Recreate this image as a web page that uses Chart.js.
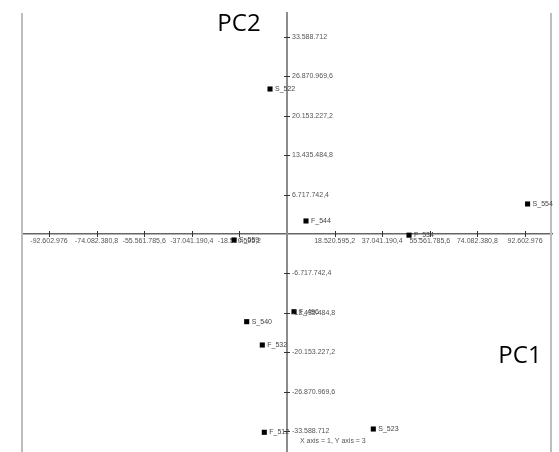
<!DOCTYPE html>
<html>
<head>
<meta charset="utf-8">
<script src="https://cdn.jsdelivr.net/npm/chart.js@4"></script>
<style>
  html, body { margin: 0; padding: 0; background: #fff; }
  #wrap { width: 559px; height: 452px; }
</style>
</head>
<body>
<div id="wrap"><canvas id="pca"></canvas></div>
<script>
// sample names and their scores on PC1 / PC2
const names = ['S_522', 'F_544', 'S_554', 'F_534', 'S_559', 'F_496', 'S_540', 'F_532', 'F_512', 'S_523'];
const pc1 = [-6610000, 7390000, 93600000, 47470000, -20620000, 2720000, -15680000, -9610000, -8830000, 33580000];
const pc2 = [24720000, 2220000, 5120000, -200000, -1020000, -13250000, -14950000, -18930000, -33810000, -33250000];

const xTicks = [-92602976, -74082380.8, -55561785.6, -37041190.4, -18520595.2, 18520595.2, 37041190.4, 55561785.6, 74082380.8, 92602976];
const xTickLabels = ['-92.602.976', '-74.082.380,8', '-55.561.785,6', '-37.041.190,4', '-18.520.595,2',
    '18.520.595,2', '37.041.190,4', '55.561.785,6', '74.082.380,8', '92.602.976'];
const yTicks = [33588712, 26870969.6, 20153227.2, 13435484.8, 6717742.4, -6717742.4, -13435484.8, -20153227.2, -26870969.6, -33588712];
const yTickLabels = ['33.588.712', '26.870.969,6', '20.153.227,2', '13.435.484,8', '6.717.742,4',
    '-6.717.742,4', '-13.435.484,8', '-20.153.227,2', '-26.870.969,6', '-33.588.712'];

const smallFont = '7px "Liberation Sans", Arial, sans-serif';

const extras = {
    id: 'extras',
    afterDraw(chart) {
        const {ctx, chartArea, scales} = chart;
        const x = scales.x, y = scales.y;
        const x0 = x.getPixelForValue(0), y0 = y.getPixelForValue(0);
        ctx.save();

        // side frame lines
        ctx.strokeStyle = '#bdbdbd';
        ctx.lineWidth = 2;
        ctx.beginPath();
        ctx.moveTo(chartArea.left, chartArea.top);
        ctx.lineTo(chartArea.left, chartArea.bottom);
        ctx.moveTo(chartArea.right - 1, chartArea.top);
        ctx.lineTo(chartArea.right - 1, chartArea.bottom);
        ctx.stroke();

        // tick marks crossing the axes
        ctx.strokeStyle = '#333';
        ctx.lineWidth = 1;
        ctx.beginPath();
        xTicks.forEach(v => {
            const px = Math.round(x.getPixelForValue(v)) + 0.5;
            ctx.moveTo(px, y0 - 3);
            ctx.lineTo(px, y0 + 3);
        });
        yTicks.forEach(v => {
            const py = Math.round(y.getPixelForValue(v)) + 0.5;
            ctx.moveTo(x0 - 3, py);
            ctx.lineTo(x0 + 3, py);
        });
        ctx.stroke();

        // y tick labels on the right side of the axis
        ctx.font = smallFont;
        ctx.fillStyle = '#555';
        ctx.textAlign = 'left';
        ctx.textBaseline = 'middle';
        yTicks.forEach((v, i) => {
            ctx.fillText(yTickLabels[i], x0 + 5, y.getPixelForValue(v));
        });

        // point labels
        ctx.fillStyle = '#444';
        const meta = chart.getDatasetMeta(0);
        meta.data.forEach((pt, i) => {
            ctx.fillText(names[i], pt.x + 5, pt.y);
        });

        // axis names
        ctx.fillStyle = '#000';
        ctx.font = '24px "Open Sans", "Liberation Sans", sans-serif';
        ctx.textAlign = 'center';
        ctx.fillText('PC2', 239, 24);
        ctx.fillText('PC1', 520, 356);

        ctx.font = smallFont;
        ctx.fillStyle = '#555';
        ctx.textAlign = 'left';
        ctx.fillText('X axis = 1, Y axis = 3', 300, 441);
        ctx.restore();
    }
};

new Chart(document.getElementById('pca'), {
    type: 'scatter',
    data: {
        datasets: [{
            data: pc1.map((v, i) => ({x: v, y: pc2[i]})),
            pointStyle: 'rect',
            pointRadius: 3.6,
            pointHoverRadius: 3.6,
            backgroundColor: '#000',
            borderWidth: 0,
        }],
    },
    options: {
        responsive: true,
        maintainAspectRatio: false,
        animation: false,
        events: [],
        layout: {autoPadding: false, padding: {left: 22, right: 7, top: 13, bottom: 0}},
        plugins: {legend: {display: false}, tooltip: {enabled: false}},
        scales: {
            x: {
                type: 'linear',
                position: {y: 0},
                min: -103100000,
                max: 103100000,
                afterBuildTicks: (scale) => { scale.ticks = xTicks.map(v => ({value: v})); },
                afterFit: (scale) => { scale.height = 0; },
                grid: {display: false, drawTicks: false},
                border: {color: '#666', width: 1.5},
                ticks: {
                    autoSkip: false,
                    maxRotation: 0,
                    padding: 3,
                    color: '#555',
                    font: {family: '"Liberation Sans", Arial, sans-serif', size: 7},
                    callback: (value, index) => xTickLabels[index],
                },
            },
            y: {
                type: 'linear',
                position: {x: 0},
                min: -37170000,
                max: 37680000,
                afterBuildTicks: (scale) => { scale.ticks = yTicks.map(v => ({value: v})); },
                afterFit: (scale) => { scale.width = 0; },
                grid: {display: false},
                border: {color: '#8c8c8c', width: 2},
                ticks: {display: false},
            },
        },
    },
    plugins: [extras],
});
</script>
</body>
</html>
